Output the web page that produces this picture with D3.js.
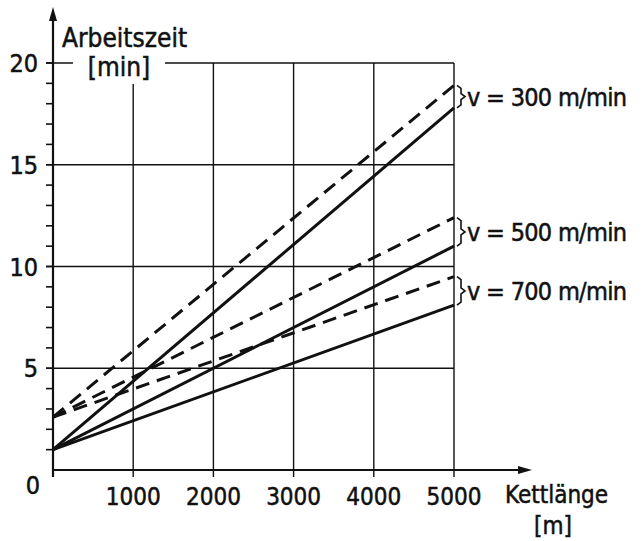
<!DOCTYPE html>
<html>
<head>
<meta charset="utf-8">
<script src="https://cdn.jsdelivr.net/npm/d3@7"></script>
<style>
  body { margin: 0; background: #fff; }
  text { font-family: 'DejaVu Sans Condensed', 'Liberation Sans Narrow', sans-serif; fill: #111; stroke: #111; stroke-width: 0.5; }
</style>
</head>
<body>
<svg id="chart" width="642" height="541"></svg>
<script>
// chart values
var xRange = [0, 5000];
var xTicks = [1000, 2000, 3000, 4000, 5000];
var yTicks = [5, 10, 15, 20];
var speeds = ['v = 300 m/min', 'v = 500 m/min', 'v = 700 m/min'];
// working time at 0 m and 5000 m, [min]
var solidStart = [1.0, 1.0, 1.0];
var solidEnd = [17.8, 11.0, 8.1];
var dashedStart = [2.6, 2.6, 2.6];
var dashedEnd = [18.9, 12.4, 9.5];

var svg = d3.select('#chart');
var ink = '#111';

var xScale = d3.scaleLinear()
  .domain(xRange)
  .range([53, 454]);

var yScale = d3.scaleLinear()
  .domain([0, 20])
  .range([470, 63]);

// grid
svg.selectAll('.vgrid')
  .data(xTicks)
  .enter()
  .append('line')
  .attr('x1', function (d) { return xScale(d); })
  .attr('x2', function (d) { return xScale(d); })
  .attr('y1', yScale(0) + 7)
  .attr('y2', yScale(20))
  .attr('stroke', ink)
  .attr('stroke-width', 1.4);

svg.selectAll('.hgrid')
  .data(yTicks)
  .enter()
  .append('line')
  .attr('x1', xScale(0) - 7)
  .attr('x2', xScale(5000))
  .attr('y1', function (d) { return yScale(d); })
  .attr('y2', function (d) { return yScale(d); })
  .attr('stroke', ink)
  .attr('stroke-width', 1.4);

// minor ticks on y axis
svg.selectAll('.ytick')
  .data(d3.range(1, 21))
  .enter()
  .append('line')
  .attr('x1', xScale(0) - 7)
  .attr('x2', xScale(0))
  .attr('y1', function (d) { return yScale(d); })
  .attr('y2', function (d) { return yScale(d); })
  .attr('stroke', ink)
  .attr('stroke-width', 1.6);

// lines
var line = d3.line()
  .x(function (d) { return xScale(d[0]); })
  .y(function (d) { return yScale(d[1]); });

speeds.forEach(function (s, i) {
  svg.append('path')
    .attr('d', line([[xRange[0], dashedStart[i]], [xRange[1], dashedEnd[i]]]))
    .attr('fill', 'none')
    .attr('stroke', ink)
    .attr('stroke-width', 3)
    .attr('stroke-dasharray', '14,8');

  svg.append('path')
    .attr('d', line([[xRange[0], solidStart[i]], [xRange[1], solidEnd[i]]]))
    .attr('fill', 'none')
    .attr('stroke', ink)
    .attr('stroke-width', 3);

  // brace between the two line ends
  var y1 = yScale(dashedEnd[i]);
  var y2 = yScale(solidEnd[i]);
  var ym = (y1 + y2) / 2;
  var bx = xScale(xRange[1]) + 3;
  svg.append('path')
    .attr('d', 'M' + bx + ',' + y1 + ' L' + (bx + 4) + ',' + (y1 + 3) +
      ' L' + (bx + 4) + ',' + (ym - 3) + ' L' + (bx + 8) + ',' + ym +
      ' L' + (bx + 4) + ',' + (ym + 3) + ' L' + (bx + 4) + ',' + (y2 - 3) +
      ' L' + bx + ',' + y2)
    .attr('fill', 'none')
    .attr('stroke', ink)
    .attr('stroke-width', 1.6);

  svg.append('text')
    .attr('x', bx + 10)
    .attr('y', ym + 9)
    .attr('font-size', 25)
    .attr('textLength', 160)
    .text(s);
});

// white box behind the y title
svg.append('rect')
  .attr('x', 73)
  .attr('y', 22)
  .attr('width', 92)
  .attr('height', 62)
  .attr('fill', '#fff');

// axes
svg.append('line')
  .attr('x1', xScale(0))
  .attr('x2', xScale(0))
  .attr('y1', yScale(0) + 7)
  .attr('y2', 16)
  .attr('stroke', ink)
  .attr('stroke-width', 2.2);

svg.append('path')
  .attr('d', 'M' + xScale(0) + ',7 L' + (xScale(0) - 4) + ',21 L' + (xScale(0) + 4) + ',21 Z')
  .attr('fill', ink);

svg.append('line')
  .attr('x1', xScale(0))
  .attr('x2', 522)
  .attr('y1', yScale(0))
  .attr('y2', yScale(0))
  .attr('stroke', ink)
  .attr('stroke-width', 2.2);

svg.append('path')
  .attr('d', 'M532,' + yScale(0) + ' L518,' + (yScale(0) - 4) + ' L518,' + (yScale(0) + 4) + ' Z')
  .attr('fill', ink);

// tick labels
svg.selectAll('.xlab')
  .data(xTicks)
  .enter()
  .append('text')
  .attr('x', function (d) { return xScale(d); })
  .attr('y', 505)
  .attr('text-anchor', 'middle')
  .attr('font-size', 24)
  .text(function (d) { return d; });

svg.selectAll('.ylab')
  .data(yTicks)
  .enter()
  .append('text')
  .attr('x', 38)
  .attr('y', function (d) { return yScale(d) + 9; })
  .attr('text-anchor', 'end')
  .attr('font-size', 25)
  .text(function (d) { return d; });

svg.append('text')
  .attr('x', 40)
  .attr('y', 494)
  .attr('text-anchor', 'end')
  .attr('font-size', 25)
  .text('0');

// axis titles
svg.append('text')
  .attr('x', 62)
  .attr('y', 47)
  .attr('font-size', 26)
  .text('Arbeitszeit');

svg.append('text')
  .attr('x', 119)
  .attr('y', 76)
  .attr('text-anchor', 'middle')
  .attr('font-size', 26)
  .text('[min]');

svg.append('text')
  .attr('x', 505)
  .attr('y', 503)
  .attr('font-size', 24)
  .text('Kettlänge');

svg.append('text')
  .attr('x', 553)
  .attr('y', 534)
  .attr('text-anchor', 'middle')
  .attr('font-size', 24)
  .text('[m]');
</script>
</body>
</html>
